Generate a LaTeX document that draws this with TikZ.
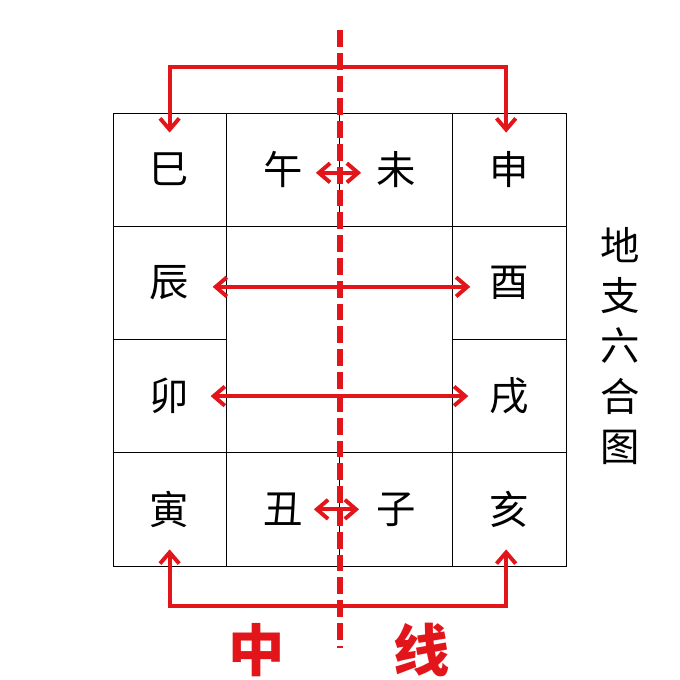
\documentclass[tikz,border=0pt]{standalone}
\usepackage{fontspec}
\newfontfamily\cjk{Noto Sans CJK SC}
\usepackage {tikz}
\usetikzlibrary {positioning}
\usetikzlibrary{arrows.meta}
\definecolor{midred}{RGB}{226,22,26}
\tikzset{
    cell/.style = {rectangle,draw,line width=0.6pt,minimum size=2.83cm,inner sep=0pt,font=\cjk\fontsize{28}{28}\selectfont},
    pair/.style = {midred,line width=2.8pt,<->,>={Straight Barb[length=0.28cm,width=0.48cm]}},
    midline/.style = {midred,line width=4pt,dash pattern=on 0.42cm off 0.15cm},
    title/.style = {text=midred,font=\cjk\bfseries\fontsize{40}{40}\selectfont},
    vname/.style = {align=center,inner sep=0pt,font=\cjk\fontsize{28}{35.6}\selectfont}}
\begin{document}
\begin{tikzpicture}[x=0.025cm,y=-0.025cm]
        \useasboundingbox (0,0) rectangle (680,680);
        \path (169.6,169.6) node[cell] (Si) {巳}
        ++ (113.25,0) node[cell] (Wu) {午}
        ++ (113.25,0) node[cell] (Wei) {未}
        ++ (113.25,0) node[cell] (Shen) {申}
        ++ (0,113.25) node[cell] (You) {酉}
        ++ (0,113.25) node[cell] (Xu) {戌}
        ++ (0,113.25) node[cell] (Hai) {亥}
        ++ (-113.25,0) node[cell] (Zi) {子}
        ++ (-113.25,0) node[cell] (Chou) {丑}
        ++ (-113.25,0) node[cell] (Yin) {寅}
        ++ (0,-113.25) node[cell] (Mao) {卯}
        ++ (0,-113.25) node[cell] (Chen) {辰};
        \coordinate (TopBar) at (340,67);
        \coordinate (BotBar) at (340,606);
        \coordinate (MidTop) at (340,30);
        \coordinate (MidBot) at (340,648);
        \draw[pair] ([yshift=-0.5cm]Si.north) |- (TopBar) -| ([xshift=-0.08cm,yshift=-0.5cm]Shen.north);
        \draw[pair] ([yshift=0.425cm]Yin.south) |- (BotBar) -| ([xshift=-0.08cm,yshift=0.425cm]Hai.south);
        \draw[pair] ([xshift=-0.35cm,yshift=-0.1cm]Chen.east) -- ([xshift=0.45cm,yshift=-0.1cm]You.west);
        \draw[pair] ([xshift=-0.4cm]Mao.east) -- ([xshift=0.4cm]Xu.west);
        \draw[pair] ([xshift=-0.6cm,yshift=-0.08cm]Wu.east) -- ([xshift=0.55cm,yshift=-0.08cm]Wei.west);
        \draw[pair] ([xshift=-0.65cm]Chou.east) -- ([xshift=0.5cm]Zi.west);
        \draw[midline] (MidTop) -- (MidBot);
        \node[title] (Zhong) at (257,650) {中};
        \node[title] (Xian) at (422,650) {线};
        \node[vname] (Name) at (620,346) {地\\支\\六\\合\\图};
\end{tikzpicture}
\end{document}
